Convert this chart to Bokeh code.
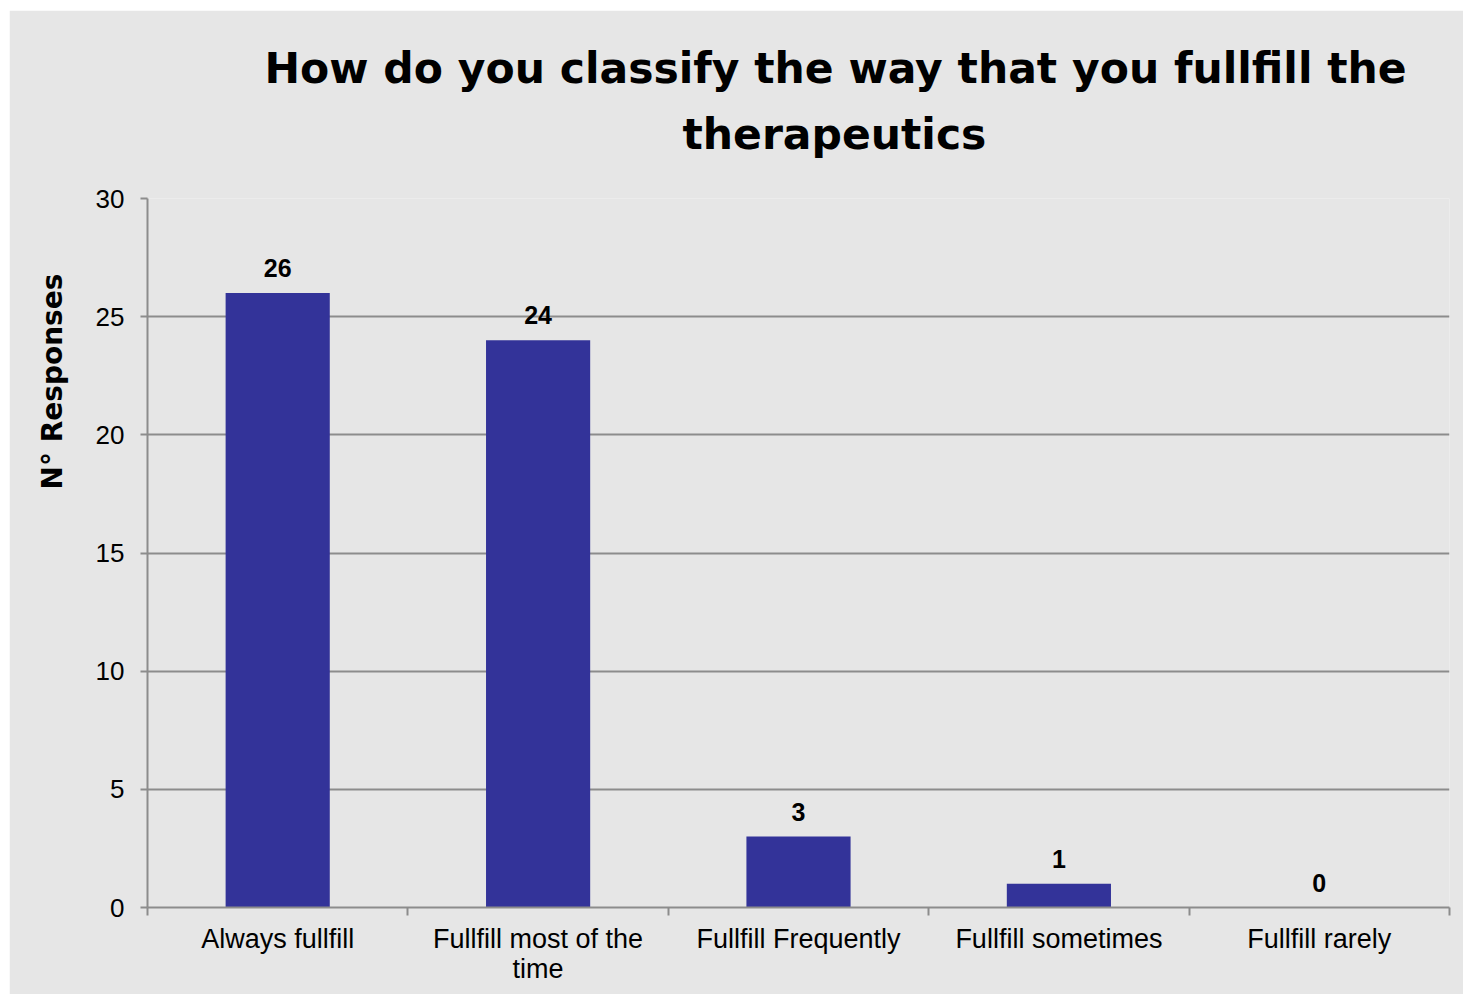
from bokeh.plotting import figure
from bokeh.models import FixedTicker, Title, ColumnDataSource, Range1d, LinearAxis
from bokeh.embed import file_html
from bokeh.resources import INLINE
from bokeh.core.properties import value

categories = ["Always fullfill", "Fullfill most of the time", "Fullfill Frequently",
              "Fullfill sometimes", "Fullfill rarely"]
tick_labels = ["Always fullfill", "Fullfill most of the\ntime", "Fullfill Frequently",
               "Fullfill sometimes", "Fullfill rarely"]
responses = [26, 24, 3, 1, 0]
y_ticks = [0, 5, 10, 15, 20, 25, 30]
title_lines = ["How do you classify the way that you fullfill the", "therapeutics"]
y_label = "N\u00b0 Responses"

BG = "#e6e6e6"
GRID = "#8c8c8c"
BAR = "#333399"

xs = [i + 0.5 for i in range(len(categories))]
src = ColumnDataSource(dict(x=xs, y=responses, lbl=[str(v) for v in responses]))

p = figure(width=1454, height=984, output_backend="svg", toolbar_location=None,
           x_range=Range1d(0, len(categories)), y_range=Range1d(0, 30),
           margin=(10, 0, 0, 9),
           min_border_left=138, min_border_right=14, min_border_top=188, min_border_bottom=87)
p.background_fill_color = BG
p.border_fill_color = BG
p.outline_line_color = None

p.vbar(x="x", top="y", width=0.4, bottom=0, source=src, fill_color=BAR, line_color=None)
p.text(x="x", y="y", text="lbl", source=src, text_align="center", text_baseline="bottom",
       y_offset=-16, text_font=value("Liberation Sans"), text_font_style="bold",
       text_font_size="25px", text_color="black")

# axes
p.xaxis.ticker = FixedTicker(ticks=xs, minor_ticks=list(range(len(categories) + 1)))
p.xaxis.major_label_overrides = {x: l for x, l in zip(xs, tick_labels)}
p.xaxis.major_tick_line_color = None
p.xaxis.major_tick_out = 0
p.xaxis.major_tick_in = 0
p.xaxis.minor_tick_line_color = GRID
p.xaxis.minor_tick_line_width = 2
p.xaxis.minor_tick_out = 8
p.xaxis.minor_tick_in = 0
p.xaxis.major_label_standoff = 8
p.xaxis.major_label_text_line_height = 1.0

p.yaxis.ticker = FixedTicker(ticks=y_ticks, minor_ticks=[])
p.yaxis.major_tick_out = 7
p.yaxis.major_tick_in = 0
p.yaxis.major_tick_line_color = GRID
p.yaxis.major_tick_line_width = 2
p.yaxis.major_label_standoff = 16

for ax in (p.xaxis, p.yaxis):
    ax.axis_line_color = GRID
    ax.axis_line_width = 2
    ax.major_label_text_font = "Liberation Sans"
    ax.major_label_text_font_size = "27px"
    ax.major_label_text_color = "black"
p.yaxis.major_label_text_font_size = "26px"

p.xgrid.grid_line_color = None
p.ygrid.grid_line_color = GRID
p.ygrid.grid_line_width = 2
p.ygrid.ticker = FixedTicker(ticks=y_ticks)

# background-coloured spacer between the plot area and the two title lines
spacer = LinearAxis(ticker=FixedTicker(ticks=[len(categories)], minor_ticks=[]),
                    axis_line_color=None,
                    major_tick_line_color=BG, minor_tick_line_color=None,
                    major_tick_out=35, major_tick_in=0, minor_tick_out=0, minor_tick_in=0,
                    major_label_standoff=0, major_label_text_font_size="0px",
                    major_label_text_color=BG,
                    major_label_overrides={len(categories): ""})
p.add_layout(spacer, "above")
p.add_layout(Title(text=title_lines[1], align="left", offset=535, text_font="DejaVu Sans",
                   text_font_style="bold", text_font_size="42.5px", text_color="black",
                   standoff=10), "above")
p.add_layout(Title(text=title_lines[0], align="left", offset=117, text_font="DejaVu Sans",
                   text_font_style="bold", text_font_size="42.5px", text_color="black",
                   standoff=20), "above")
p.add_layout(Title(text=y_label, align="left", offset=418, text_font="DejaVu Sans",
                   text_font_style="bold", text_font_size="28px", text_color="black",
                   standoff=48), "left")

open("out.html", "w").write(file_html(p, INLINE))
